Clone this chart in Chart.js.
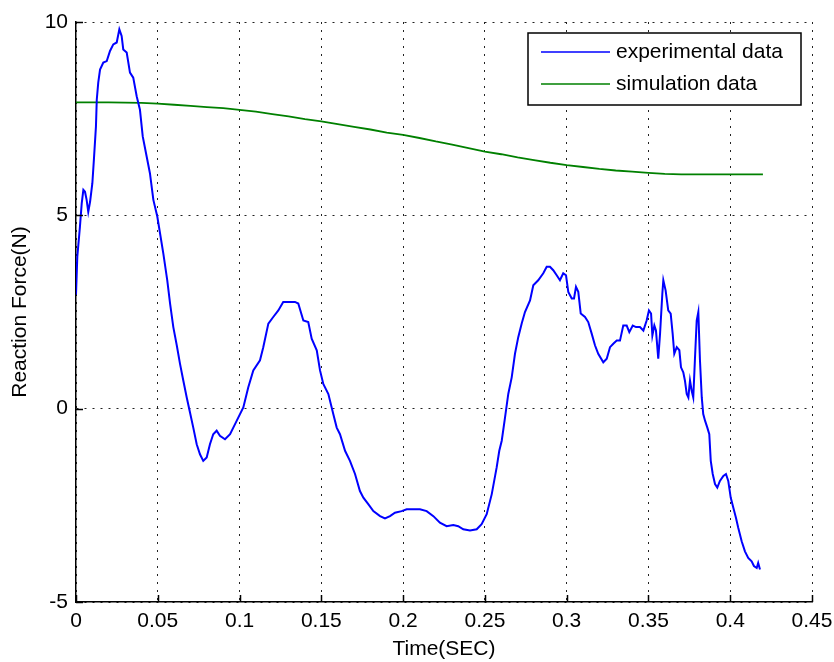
<!DOCTYPE html>
<html>
<head>
<meta charset="utf-8">
<script src="https://cdn.jsdelivr.net/npm/chart.js@4.4.0/dist/chart.umd.min.js"></script>
<style>
  html, body { margin: 0; padding: 0; background: #fff; }
  #wrap { width: 834px; height: 662px; position: relative; }
</style>
</head>
<body>
<div id="wrap"><canvas id="forceChart"></canvas></div>
<script>
const expTime = [0, 0.0008, 0.0024, 0.0035, 0.0045, 0.0055, 0.0065, 0.0075, 0.0086, 0.0100,
  0.0110, 0.0122, 0.0127, 0.0136, 0.0147, 0.0167, 0.0188, 0.0208, 0.0228, 0.0249,
  0.0265, 0.0279, 0.0289, 0.0310, 0.0330, 0.0350, 0.0371, 0.0391, 0.0408, 0.0432,
  0.0452, 0.0473, 0.0497, 0.0514, 0.0534, 0.0558, 0.0575, 0.0595, 0.0616, 0.0636,
  0.0656, 0.0677, 0.0697, 0.0717, 0.0738, 0.0758, 0.0778, 0.0799, 0.0819, 0.0839,
  0.0860, 0.0880, 0.0911, 0.0942, 0.0983, 0.1023, 0.1053, 0.1084, 0.1125, 0.1145,
  0.1176, 0.1206, 0.1237, 0.1267, 0.1298, 0.1339, 0.1359, 0.1390, 0.1420, 0.1441,
  0.1472, 0.1492, 0.1512, 0.1543, 0.1573, 0.1594, 0.1614, 0.1645, 0.1675, 0.1706,
  0.1736, 0.1757, 0.1787, 0.1818, 0.1859, 0.1889, 0.1920, 0.1950, 0.1991, 0.2022,
  0.2062, 0.2103, 0.2144, 0.2185, 0.2225, 0.2266, 0.2307, 0.2337, 0.2368, 0.2409,
  0.2450, 0.2480, 0.2511, 0.2542, 0.2572, 0.2588, 0.2603, 0.2623, 0.2643, 0.2664,
  0.2684, 0.2704, 0.2725, 0.2745, 0.2776, 0.2796, 0.2826, 0.2857, 0.2878, 0.2898,
  0.2918, 0.2939, 0.2959, 0.2979, 0.2996, 0.3010, 0.3031, 0.3045, 0.3057, 0.3071,
  0.3086, 0.3112, 0.3132, 0.3153, 0.3173, 0.3193, 0.3224, 0.3245, 0.3265, 0.3285,
  0.3306, 0.3326, 0.3346, 0.3367, 0.3383, 0.3404, 0.3424, 0.3448, 0.3469, 0.3489,
  0.3503, 0.3516, 0.3524, 0.3536, 0.3546, 0.3560, 0.3571, 0.3585, 0.3591, 0.3605,
  0.3621, 0.3636, 0.3648, 0.3658, 0.3673, 0.3689, 0.3699, 0.3713, 0.3723, 0.3734,
  0.3744, 0.3754, 0.3764, 0.3774, 0.3784, 0.3795, 0.3805, 0.3815, 0.3826, 0.3835,
  0.3846, 0.3860, 0.3872, 0.3881, 0.3893, 0.3907, 0.3921, 0.3937, 0.3958, 0.3974,
  0.3988, 0.4003, 0.4019, 0.4035, 0.4049, 0.4070, 0.4090, 0.4110, 0.4131, 0.4145,
  0.4162, 0.4171, 0.4182];
const expForce = [2.95, 3.93, 4.70, 5.31, 5.66, 5.61, 5.40, 5.09, 5.35, 5.83,
  6.48, 7.30, 7.99, 8.43, 8.77, 8.95, 8.99, 9.25, 9.42, 9.47,
  9.81, 9.64, 9.29, 9.21, 8.69, 8.56, 8.08, 7.73, 7.04, 6.52,
  6.09, 5.40, 4.97, 4.53, 4.01, 3.32, 2.72, 2.11, 1.64, 1.16,
  0.73, 0.29, -0.10, -0.49, -0.92, -1.18, -1.35, -1.26, -0.92, -0.66,
  -0.57, -0.70, -0.79, -0.66, -0.31, 0.03, 0.55, 0.99, 1.25, 1.59,
  2.20, 2.37, 2.54, 2.76, 2.76, 2.76, 2.72, 2.28, 2.24, 1.81,
  1.51, 0.99, 0.64, 0.38, -0.14, -0.49, -0.66, -1.09, -1.35, -1.69,
  -2.13, -2.30, -2.47, -2.65, -2.78, -2.84, -2.78, -2.69, -2.65, -2.60,
  -2.60, -2.60, -2.65, -2.78, -2.95, -3.04, -3.01, -3.04, -3.12, -3.15,
  -3.12, -2.99, -2.73, -2.21, -1.52, -1.09, -0.83, -0.23, 0.38, 0.81,
  1.42, 1.85, 2.20, 2.50, 2.80, 3.19, 3.32, 3.50, 3.67, 3.67,
  3.58, 3.45, 3.32, 3.50, 3.45, 3.02, 2.85, 2.85, 3.15, 3.02,
  2.46, 2.37, 2.24, 1.94, 1.64, 1.42, 1.20, 1.29, 1.59, 1.68,
  1.76, 1.76, 2.15, 2.15, 1.98, 2.15, 2.11, 2.11, 2.02, 2.28,
  2.54, 2.46, 1.89, 2.15, 2.02, 1.29, 1.94, 2.98, 3.32, 3.06,
  2.54, 2.46, 1.94, 1.42, 1.59, 1.51, 1.07, 0.94, 0.73, 0.38,
  0.29, 0.73, 0.47, 0.29, 1.25, 2.28, 2.50, 1.25, 0.29, -0.14,
  -0.31, -0.49, -0.66, -1.35, -1.69, -1.95, -2.04, -1.87, -1.74, -1.69,
  -1.87, -2.30, -2.56, -2.82, -3.08, -3.43, -3.69, -3.86, -3.95, -4.07,
  -4.12, -3.99, -4.16];

// simulation data (green)
const simTime = [0, 0.02, 0.04, 0.05, 0.06, 0.07, 0.08, 0.09, 0.10, 0.11,
  0.12, 0.13, 0.14, 0.15, 0.16, 0.17, 0.18, 0.19, 0.20, 0.21,
  0.22, 0.23, 0.24, 0.25, 0.26, 0.27, 0.28, 0.29, 0.30, 0.31,
  0.32, 0.33, 0.34, 0.35, 0.36, 0.37, 0.38, 0.39, 0.40, 0.41, 0.42];
const simForce = [7.92, 7.92, 7.91, 7.89, 7.86, 7.83, 7.80, 7.77, 7.73, 7.68,
  7.62, 7.56, 7.49, 7.43, 7.36, 7.29, 7.22, 7.14, 7.08, 7.00,
  6.91, 6.83, 6.74, 6.65, 6.58, 6.50, 6.43, 6.36, 6.30, 6.25,
  6.20, 6.16, 6.13, 6.10, 6.07, 6.06, 6.06, 6.06, 6.06, 6.06, 6.06];

const xTicks = ['0', '0.05', '0.1', '0.15', '0.2', '0.25', '0.3', '0.35', '0.4', '0.45'];
const yTicks = ['-5', '0', '5', '10'];

const FONT = "'Liberation Sans', Arial, Helvetica, sans-serif";
Chart.defaults.font.family = FONT;
Chart.defaults.font.size = 21;
Chart.defaults.color = '#000';

// matlab style ticks pointing into the plot
const innerTicks = {
  id: 'innerTicks',
  afterDraw(chart) {
    const {ctx, chartArea} = chart;
    const xs = chart.scales.x, ys = chart.scales.y;
    ctx.save();
    ctx.strokeStyle = '#000';
    ctx.lineWidth = 1.5;
    ctx.beginPath();
    xs.ticks.forEach(t => {
      const px = Math.round(xs.getPixelForValue(t.value)) + 0.5;
      ctx.moveTo(px, chartArea.bottom);
      ctx.lineTo(px, chartArea.bottom - 7);
    });
    ys.ticks.forEach(t => {
      const py = Math.round(ys.getPixelForValue(t.value)) + 0.5;
      ctx.moveTo(chartArea.left, py);
      ctx.lineTo(chartArea.left + 7, py);
    });
    ctx.stroke();
    ctx.restore();
  }
};

// legend box in the top right corner of the axes
const boxLegend = {
  id: 'boxLegend',
  afterDraw(chart) {
    const {ctx, chartArea} = chart;
    const w = 273, h = 72;
    const left = chartArea.right - 11 - w;
    const top = chartArea.top + 11;
    ctx.save();
    ctx.fillStyle = '#fff';
    ctx.fillRect(left, top, w, h);
    ctx.strokeStyle = '#000';
    ctx.lineWidth = 1.5;
    ctx.strokeRect(left, top, w, h);
    ctx.font = '21px ' + FONT;
    ctx.textBaseline = 'middle';
    ctx.fillStyle = '#000';
    chart.data.datasets.forEach((ds, i) => {
      const y = top + 19 + i * 32;
      ctx.strokeStyle = ds.borderColor;
      ctx.lineWidth = 1.5;
      ctx.beginPath();
      ctx.moveTo(left + 13, y);
      ctx.lineTo(left + 82, y);
      ctx.stroke();
      ctx.fillText(ds.label, left + 88, y);
    });
    ctx.restore();
  }
};

new Chart(document.getElementById('forceChart'), {
  type: 'line',
  data: {
    datasets: [{
      label: 'experimental data',
      data: expTime.map((t, i) => ({x: t, y: expForce[i]})),
      borderColor: '#0000ff',
      borderWidth: 2,
      pointRadius: 0,
      tension: 0
    }, {
      label: 'simulation data',
      data: simTime.map((t, i) => ({x: t, y: simForce[i]})),
      borderColor: '#008000',
      borderWidth: 1.8,
      pointRadius: 0,
      tension: 0
    }]
  },
  options: {
    responsive: true,
    maintainAspectRatio: false,
    animation: false,
    layout: { padding: { top: 22, right: 22, left: 0, bottom: 0 } },
    plugins: { legend: { display: false }, tooltip: { enabled: false } },
    scales: {
      x: {
        type: 'linear',
        min: 0,
        max: 0.45,
        afterBuildTicks: s => { s.ticks = xTicks.map(v => ({value: Number(v)})); },
        afterFit: s => { s.height = 60; s.paddingLeft = 0; s.paddingRight = 0; },
        ticks: { callback: (v, i) => xTicks[i], padding: 7, maxRotation: 0, autoSkip: false },
        grid: { color: '#222', lineWidth: 1, drawTicks: false },
        border: { color: '#000', width: 1.5, dash: [2, 6] },
        title: { display: true, text: 'Time(SEC)', padding: { top: 0, bottom: 0 } }
      },
      y: {
        min: -5,
        max: 10,
        afterBuildTicks: s => { s.ticks = yTicks.map(v => ({value: Number(v)})); },
        afterFit: s => { s.width = 76; s.paddingTop = 0; s.paddingBottom = 0; },
        ticks: { callback: (v, i) => yTicks[i], padding: 8 },
        grid: { color: '#222', lineWidth: 1, drawTicks: false },
        border: { color: '#000', width: 1.5, dash: [2, 6] },
        title: { display: true, text: 'Reaction Force(N)', padding: { top: 8, bottom: 0 } }
      }
    }
  },
  plugins: [innerTicks, boxLegend]
});
</script>
</body>
</html>
